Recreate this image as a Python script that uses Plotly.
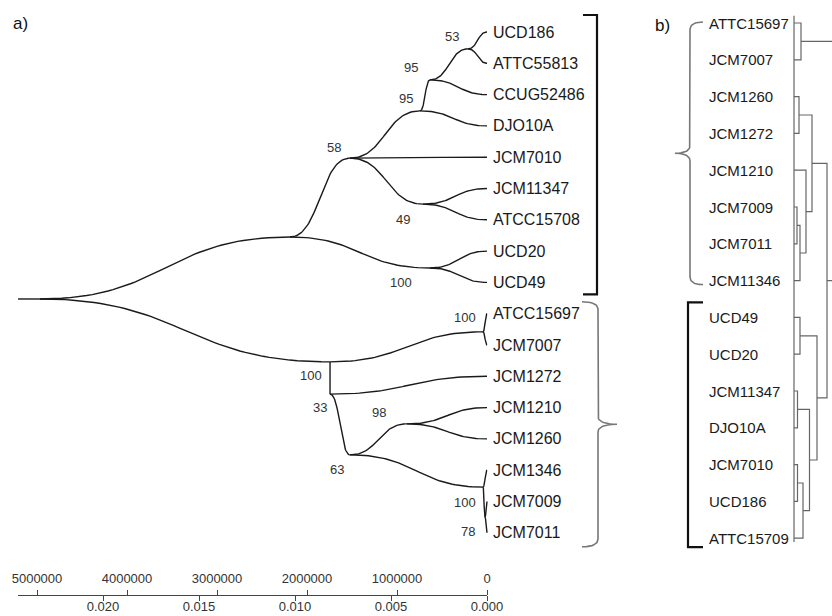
import numpy as np
import plotly.graph_objects as go

# ---------------- data: panel a (curved tree) ----------------
leaves_a = ["UCD186", "ATTC55813", "CCUG52486", "DJO10A", "JCM7010", "JCM11347",
            "ATCC15708", "UCD20", "UCD49", "ATCC15697", "JCM7007", "JCM1272",
            "JCM1210", "JCM1260", "JCM1346", "JCM7009", "JCM7011"]
# internal nodes: distance from the tips (upper scale units) and vertical row position
node_names = ["base", "root", "A", "B", "N58", "NUCD", "N95a", "N95b", "N53", "N49",
              "NATCC", "N33", "N63", "N98", "NJCM", "N78"]
node_dist = [5211000, 4967000, 2189000, 1744000, 1522000, 633000, 744000, 633000,
             211000, 711000, 44000, 1744000, 1522000, 889000, 44000, 22000]
node_row = [8.53, 8.53, 6.55, 10.54, 4.03, 7.54, 2.52, 1.53, 0.54, 5.50,
            9.58, 11.57, 13.51, 12.52, 14.54, 15.5]
edge_parent = ["base", "root", "root", "A", "A", "N58", "N58", "N58", "N95a", "N95a",
               "N95b", "N95b", "N53", "N53", "N49", "N49", "NUCD", "NUCD", "B", "B",
               "NATCC", "NATCC", "N33", "N33", "N63", "N63", "N98", "N98",
               "NJCM", "NJCM", "N78", "N78"]
edge_child = ["root", "A", "B", "N58", "NUCD", "JCM7010", "N95a", "N49", "DJO10A", "N95b",
              "CCUG52486", "N53", "UCD186", "ATTC55813", "JCM11347", "ATCC15708",
              "UCD20", "UCD49", "NATCC", "N33", "ATCC15697", "JCM7007", "JCM1272", "N63",
              "N98", "NJCM", "JCM1210", "JCM1260", "JCM1346", "N78", "JCM7009", "JCM7011"]
support_node = ["N53", "N95b", "N95a", "N58", "N49", "NUCD", "B", "N33", "N63", "N98",
                "NATCC", "NJCM", "N78"]
support_val = [53, 95, 95, 58, 49, 100, 100, 33, 63, 98, 100, 100, 78]

scale_top_ticks = [5000000, 4000000, 3000000, 2000000, 1000000, 0]
scale_top_text = ["5000000", "4000000", "3000000", "2000000", "1000000", "0"]
scale_bot_ticks = [0.020, 0.015, 0.010, 0.005, 0.000]
scale_bot_text = ["0.020", "0.015", "0.010", "0.005", "0.000"]
scale_top_max = 5211000
scale_bot_max = 0.024427

# ---------------- data: panel b (rectangular dendrogram) ----------------
leaves_b = ["ATTC15697", "JCM7007", "JCM1260", "JCM1272", "JCM1210", "JCM7009",
            "JCM7011", "JCM11346", "UCD49", "UCD20", "JCM11347", "DJO10A",
            "JCM7010", "UCD186", "ATTC15709"]
merge_left = [0, 2, 5, 17, 4, 16, 8, 10, 12, 23, 22, 21, 20, 15]
merge_right = [1, 3, 6, 7, 18, 19, 9, 11, 13, 14, 24, 25, 26, 27]
merge_height = [3.5, 2.5, 1.5, 3.0, 6.0, 9.0, 3.0, 1.75, 1.75, 4.5, 7.75, 11.5, 16.5, 25.0]

# ---------------- layout geometry ----------------
W, H = 832, 616
TIP_PX = 487.0          # pixel column of the tips in panel a
PX_PER_UNIT = 90.0 / 1e6
ROW0_PX, ROW_PX = 32.0, 31.3
B_TIP_PX, B_PX_PER_H = 794.0, 2.0
B_ROW0_PX, B_ROW_PX = 23.0, 36.8

def ax(px):
    return (TIP_PX - px) / PX_PER_UNIT

def ay(py):
    return (py - ROW0_PX) / ROW_PX

def row_px(r):
    return ROW0_PX + ROW_PX * r

def bx(px):
    return (px - B_TIP_PX) / B_PX_PER_H

def by(py):
    return (py - B_ROW0_PX) / B_ROW_PX

def brow_px(r):
    return B_ROW0_PX + B_ROW_PX * r

pos = {n: (d, r) for n, d, r in zip(node_names, node_dist, node_row)}
for i, n in enumerate(leaves_a):
    pos[n] = (0.0, float(i))

def sigmoid(p0, p1, n=50):
    t = np.linspace(0, 1, n)
    x0, y0 = p0
    x1, y1 = p1
    xm = (x0 + x1) / 2
    xs = (1 - t) ** 3 * x0 + 3 * (1 - t) ** 2 * t * xm + 3 * (1 - t) * t ** 2 * xm + t ** 3 * x1
    ys = (1 - t) ** 3 * y0 + 3 * (1 - t) ** 2 * t * y0 + 3 * (1 - t) * t ** 2 * y1 + t ** 3 * y1
    return list(xs), list(ys)

tx, ty = [], []
for p, c in zip(edge_parent, edge_child):
    xs, ys = sigmoid(pos[p], pos[c])
    tx += xs + [None]
    ty += ys + [None]

def quad(p0, c, p1, n=14):
    t = np.linspace(0, 1, n)
    xs = (1 - t) ** 2 * p0[0] + 2 * (1 - t) * t * c[0] + t ** 2 * p1[0]
    ys = (1 - t) ** 2 * p0[1] + 2 * (1 - t) * t * c[1] + t ** 2 * p1[1]
    return list(xs), list(ys)

def brace(x_end, x_spine, x_point, y_top, y_bot, r=8):
    ym = (y_top + y_bot) / 2
    segs = [
        quad((x_end, y_top), (x_spine, y_top), (x_spine, y_top + r)),
        ([x_spine, x_spine], [y_top + r, ym - r]),
        quad((x_spine, ym - r), (x_spine, ym), (x_point, ym)),
        quad((x_point, ym), (x_spine, ym), (x_spine, ym + r)),
        ([x_spine, x_spine], [ym + r, y_bot - r]),
        quad((x_spine, y_bot - r), (x_spine, y_bot), (x_end, y_bot)),
    ]
    xs, ys = [], []
    for sx, sy in segs:
        xs += list(sx)
        ys += list(sy)
    return xs, ys

def square(x_end, x_spine, y_top, y_bot):
    return [x_end, x_spine, x_spine, x_end], [y_top, y_top, y_bot, y_bot]

fig = go.Figure()
LINE = "#1a1a1a"

fig.add_trace(go.Scatter(x=tx, y=ty, mode="lines", line=dict(color=LINE, width=1.4),
                         xaxis="x", yaxis="y", hoverinfo="skip", showlegend=False))

# panel a brackets
sx, sy = square(583, 597, row_px(0) - 17, row_px(8) + 12)
fig.add_trace(go.Scatter(x=[ax(v) for v in sx], y=[ay(v) for v in sy], mode="lines",
                         line=dict(color="#111", width=2.2), hoverinfo="skip", showlegend=False))
cx, cy = brace(582, 598, 617, row_px(9) - 12, row_px(16) + 14)
fig.add_trace(go.Scatter(x=[ax(v) for v in cx], y=[ay(v) for v in cy], mode="lines",
                         line=dict(color="#777", width=1.6), hoverinfo="skip", showlegend=False))

# panel b dendrogram
bpos = {i: (0.0, float(i)) for i in range(len(leaves_b))}
dx, dy = [], []
for k, (l, r, h) in enumerate(zip(merge_left, merge_right, merge_height)):
    xl, yl = bpos[l]
    xr, yr = bpos[r]
    dx += [xl, h, h, xr, None]
    dy += [yl, yl, yr, yr, None]
    bpos[len(leaves_b) + k] = (h, (yl + yr) / 2)
dx += [0, 0, None]
dy += [-0.2, len(leaves_b) - 0.9, None]
fig.add_trace(go.Scatter(x=dx, y=dy, mode="lines", line=dict(color="#666", width=1.2),
                         xaxis="x4", yaxis="y4", hoverinfo="skip", showlegend=False))

# panel b brackets
cx, cy = brace(703, 690, 675, brow_px(0) - 1, brow_px(7) + 4)
fig.add_trace(go.Scatter(x=[bx(v) for v in cx], y=[by(v) for v in cy], mode="lines",
                         line=dict(color="#777", width=1.6), xaxis="x4", yaxis="y4",
                         hoverinfo="skip", showlegend=False))
sx, sy = square(703, 688, brow_px(8) - 15, brow_px(14) + 9)
fig.add_trace(go.Scatter(x=[bx(v) for v in sx], y=[by(v) for v in sy], mode="lines",
                         line=dict(color="#111", width=2.2), xaxis="x4", yaxis="y4",
                         hoverinfo="skip", showlegend=False))

# scale axes (empty traces so the axes exist)
fig.add_trace(go.Scatter(x=[None], y=[None], xaxis="x2", yaxis="y2", showlegend=False, hoverinfo="skip"))
fig.add_trace(go.Scatter(x=[None], y=[None], xaxis="x3", yaxis="y2", showlegend=False, hoverinfo="skip"))

FONT = "Liberation Sans, Arial, sans-serif"
ann = []
for i, name in enumerate(leaves_a):
    ann.append(dict(x=0, y=i, xref="x", yref="y", text=name, showarrow=False,
                    xanchor="left", yanchor="middle", xshift=4,
                    font=dict(family=FONT, size=16, color="#1a1a1a")))
offsets = {"N53": (-16, -12), "N95b": (-19, -12), "N95a": (-14, -12), "N58": (-16, -11),
           "N49": (-20, 15), "NUCD": (-29, 14), "B": (-19, 14), "N33": (-10, 13),
           "N63": (-13, 15), "N98": (-28, -11), "NATCC": (-18, -14), "NJCM": (-18, 15),
           "N78": (-17, 14)}
for n, v in zip(support_node, support_val):
    ox, oy = offsets[n]
    d, r = pos[n]
    ann.append(dict(x=d, y=r, xref="x", yref="y", text=str(v), showarrow=False,
                    xanchor="center", yanchor="middle", xshift=ox, yshift=-oy,
                    font=dict(family=FONT, size=13, color="#333")))
for i, name in enumerate(leaves_b):
    ann.append(dict(x=0, y=i, xref="x4", yref="y4", text=name, showarrow=False,
                    xanchor="left", yanchor="middle", xshift=-87,
                    font=dict(family=FONT, size=15, color="#1a1a1a")))
ann.append(dict(x=20 / W, y=1 - 23 / H, xref="paper", yref="paper", text="a)", showarrow=False,
                xanchor="center", yanchor="middle", font=dict(family=FONT, size=17, color="#111")))
ann.append(dict(x=662 / W, y=1 - 25 / H, xref="paper", yref="paper", text="b)", showarrow=False,
                xanchor="center", yanchor="middle", font=dict(family=FONT, size=17, color="#111")))

hidden = dict(visible=False, showgrid=False, zeroline=False, fixedrange=True, automargin=False)
scale_dom = [(TIP_PX - scale_top_max * PX_PER_UNIT) / W, TIP_PX / W]
axis_y = (H - 595) / H
fig.update_layout(
    width=W, height=H, margin=dict(l=0, r=0, t=0, b=0, pad=0, autoexpand=False),
    paper_bgcolor="white", plot_bgcolor="rgba(0,0,0,0)",
    xaxis=dict(domain=[0, 1], range=[ax(0), ax(W)], **hidden),
    yaxis=dict(domain=[0, 1], range=[ay(H), ay(0)], **hidden),
    xaxis4=dict(domain=[0, 1], range=[bx(0), bx(W)], anchor="y4", **hidden),
    yaxis4=dict(domain=[0, 1], range=[by(H), by(0)], anchor="x4", **hidden),
    yaxis2=dict(domain=[0, 1], range=[0, 1], anchor="x2", **hidden),
    xaxis2=dict(domain=scale_dom, range=[scale_top_max, 0], anchor="free", position=axis_y,
                side="top", ticks="outside", ticklen=5, tickcolor="#444", showline=True,
                linecolor="#444", linewidth=1.2, tickvals=scale_top_ticks, ticktext=scale_top_text,
                tickfont=dict(family=FONT, size=13, color="#333"), showgrid=False,
                zeroline=False, fixedrange=True, automargin=False, ticklabelstandoff=2),
    xaxis3=dict(range=[scale_bot_max, 0], anchor="free", position=axis_y, overlaying="x2",
                side="bottom", ticks="outside", ticklen=5, tickcolor="#444", showline=True,
                linecolor="#444", linewidth=1.2, tickvals=scale_bot_ticks, ticktext=scale_bot_text,
                tickfont=dict(family=FONT, size=13, color="#333"), showgrid=False,
                zeroline=False, fixedrange=True, automargin=False, ticklabelstandoff=-6),
    annotations=ann,
    showlegend=False,
)
fig.write_html("out.html", post_script="document.body.style.margin='0';",
               config={"displayModeBar": False})
